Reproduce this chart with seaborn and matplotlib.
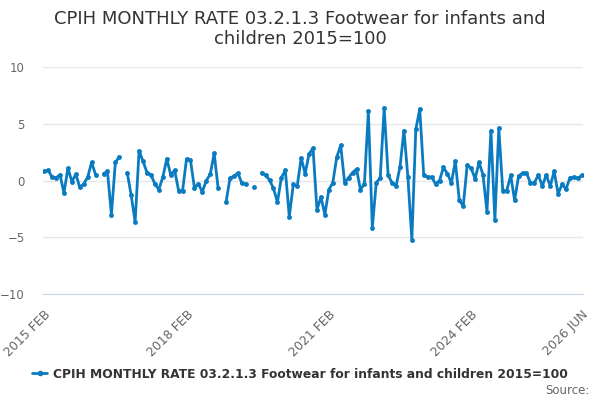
import numpy as np
import pandas as pd
import matplotlib
matplotlib.use('Agg')
import matplotlib.pyplot as plt
import seaborn as sns

nan = np.nan

# Monthly rate values, Feb 2015 .. Jun 2026 (NaN = no data)
values = [
    0.8, 0.9, 0.3, 0.25, 0.5, -1.1, 1.1, -0.1, 0.55, -0.6, -0.3, 0.3,
    1.6, 0.5, nan, 0.6, 0.8, -3.0, 1.6, 2.1, nan, 0.7, -1.3, -3.65,
    2.6, 1.7, 0.7, 0.5, -0.3, -0.8, 0.3, 1.9, 0.5, 0.9, -0.9, -0.9,
    1.9, 1.8, -0.65, -0.3, -1.0, 0.0, 0.55, 2.4, -0.7, nan, -1.9, 0.2,
    0.4, 0.65, -0.25, -0.3, nan, -0.6, nan, 0.7, 0.45, 0.05, -0.7, -1.9,
    0.25, 0.9, -3.2, -0.35, -0.5, 2.0, 0.6, 2.35, 2.85, -2.6, -1.45, -3.0,
    -0.8, -0.2, 2.05, 3.1, -0.2, 0.25, 0.7, 1.0, -0.8, -0.3, 6.1, -4.15,
    -0.2, 0.25, 6.4, 0.45, -0.2, -0.5, 1.2, 4.4, 0.3, -5.2, 4.5, 6.3,
    0.5, 0.3, 0.3, -0.3, 0.0, 1.15, 0.6, -0.2, 1.7, -1.75, -2.25, 1.35,
    1.1, 0.15, 1.6, 0.5, -2.75, 4.4, -3.5, 4.6, -0.9, -0.9, 0.45, -1.75,
    0.4, 0.65, 0.65, -0.2, -0.2, 0.5, -0.5, 0.5, -0.5, 0.8, -1.15, -0.35,
    -0.75, 0.25, 0.3, 0.2, 0.45,
]
dates = pd.date_range('2015-02-01', periods=len(values), freq='MS')
label_months = ['2015-02', '2018-02', '2021-02', '2024-02', '2026-06']
series_name = 'CPIH MONTHLY RATE 03.2.1.3 Footwear for infants and children 2015=100'

df = pd.DataFrame({'month': np.arange(len(values)), 'value': values})
# split into runs so gaps stay gaps
df['segment'] = df['value'].isna().cumsum()
df = df.dropna()

blue = '#0a7bc1'

sns.set_style('white')
fig = plt.figure(figsize=(6, 4), dpi=100)
ax = fig.add_axes([0.0717, 0.265, 0.9, 0.5675])

sns.lineplot(data=df, x='month', y='value', units='segment', estimator=None,
             color=blue, linewidth=2, marker='o', markersize=3.5,
             markeredgewidth=0, ax=ax, legend=False)

ax.set_xlim(-0.3, len(values) - 0.7)
ax.set_ylim(-10, 10)
ax.set_yticks([-10, -5, 0, 5, 10])
ax.yaxis.grid(True, color='#e6e6e6', linewidth=1)
ax.set_axisbelow(True)
for side in ['top', 'right', 'left']:
    ax.spines[side].set_visible(False)
ax.spines['bottom'].set_color('#ccd6eb')

month_str = list(dates.strftime('%Y-%m'))
major = [month_str.index(m) for m in label_months]
ax.set_xticks(major)
ax.set_xticklabels([dates[i].strftime('%Y %b').upper() for i in major],
                   rotation=45, ha='right', rotation_mode='anchor',
                   fontsize=9, color='#666666')
ax.set_xticks([i for i in range(0, len(values) - 2, 9) if i not in major], minor=True)
ax.tick_params(axis='x', which='both', length=8, color='#ccd6eb', width=1, pad=2)
ax.tick_params(axis='y', length=0, labelsize=8.5, labelcolor='#666666', pad=13)
ax.set_xlabel('')
ax.set_ylabel('')

fig.text(0.5, 0.975, 'CPIH MONTHLY RATE 03.2.1.3 Footwear for infants and\nchildren 2015=100',
         ha='center', va='top', fontsize=13, color='#333333', linespacing=1.15)

# legend
fig.legend(handles=[plt.Line2D([], [], color=blue, linewidth=2, marker='o', markersize=3)],
           labels=[series_name], loc='center', bbox_to_anchor=(0.5, 0.065),
           frameon=False, handlelength=1.2, handletextpad=0.5,
           prop={'size': 8.8, 'weight': 'bold'}, labelcolor='#333333')
fig.text(0.983, 0.025, 'Source:', ha='right', va='center', fontsize=8.5, color='#666666')

fig.savefig('out.png', dpi=100)
